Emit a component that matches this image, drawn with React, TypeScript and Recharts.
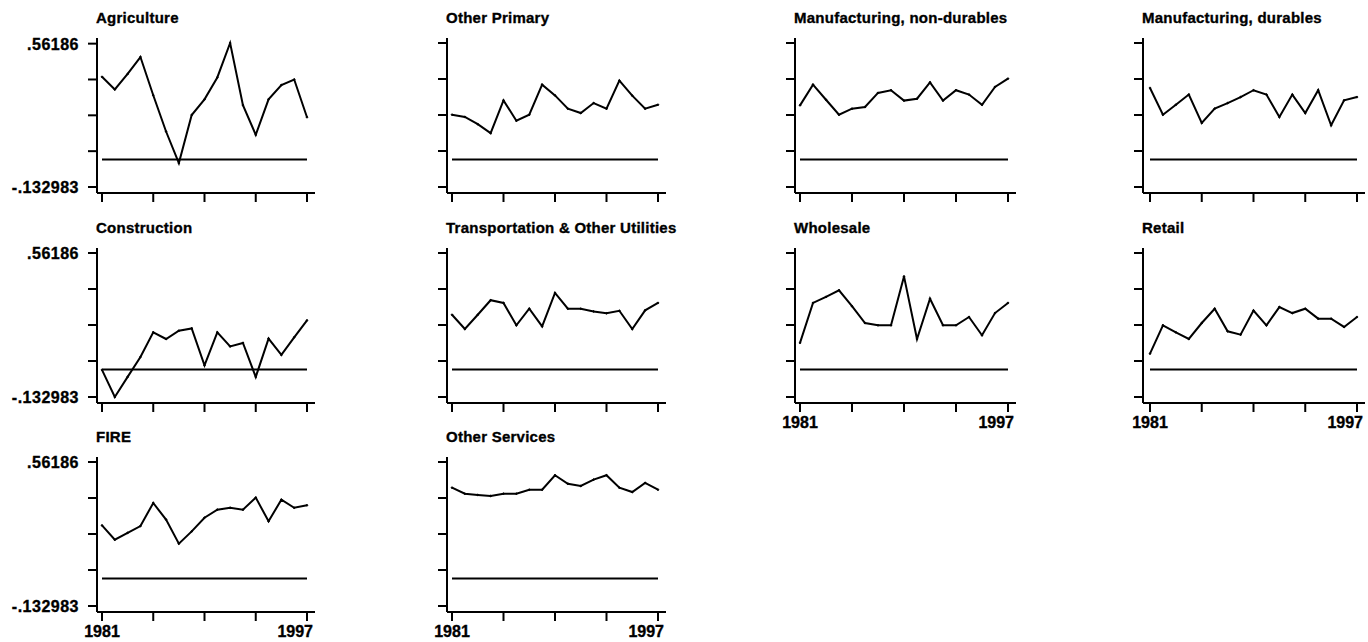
import React from 'react'
import { LineChart, Line, XAxis, YAxis, ReferenceLine } from 'recharts'

// Série 1981-1997, un panneau par secteur (style Stata, noir sur blanc)
const years = [1981, 1982, 1983, 1984, 1985, 1986, 1987, 1988, 1989, 1990, 1991, 1992, 1993, 1994, 1995, 1996, 1997]
const xTicks = [1981, 1985, 1989, 1993, 1997]
const yMin = -0.132983
const yMax = 0.56186
const yTicks = [-0.132983, 0.040728, 0.214439, 0.38815, 0.56186]
const yTickLabels = ['-.132983', '', '', '', '.56186']

const agriculture = [0.401, 0.34, 0.415, 0.497, 0.312, 0.136, -0.017, 0.216, 0.292, 0.398, 0.565, 0.264, 0.12, 0.292, 0.361, 0.388, 0.205]
const otherPrimary = [0.216, 0.205, 0.17, 0.127, 0.285, 0.187, 0.216, 0.361, 0.309, 0.245, 0.224, 0.272, 0.245, 0.38, 0.308, 0.245, 0.264]
const mfgNonDurables = [0.261, 0.361, 0.288, 0.216, 0.245, 0.253, 0.321, 0.334, 0.284, 0.293, 0.372, 0.284, 0.334, 0.313, 0.264, 0.35, 0.39]
const mfgDurables = [0.345, 0.216, 0.264, 0.313, 0.176, 0.245, 0.272, 0.301, 0.334, 0.313, 0.205, 0.313, 0.224, 0.334, 0.165, 0.285, 0.301]
const construction = [-0.002, -0.133, -0.036, 0.06, 0.179, 0.147, 0.187, 0.198, 0.02, 0.179, 0.111, 0.128, -0.036, 0.149, 0.07, 0.155, 0.237]
const transportation = [0.264, 0.195, 0.264, 0.334, 0.321, 0.213, 0.293, 0.208, 0.369, 0.293, 0.293, 0.28, 0.271, 0.283, 0.195, 0.285, 0.321]
const wholesale = [0.128, 0.321, 0.35, 0.382, 0.305, 0.224, 0.213, 0.213, 0.449, 0.147, 0.341, 0.213, 0.213, 0.253, 0.165, 0.272, 0.321]
const retail = [0.076, 0.213, 0.179, 0.147, 0.224, 0.293, 0.184, 0.168, 0.284, 0.213, 0.301, 0.272, 0.293, 0.245, 0.245, 0.205, 0.253]
const fire = [0.256, 0.187, 0.22, 0.253, 0.364, 0.284, 0.168, 0.227, 0.293, 0.332, 0.341, 0.332, 0.39, 0.276, 0.38, 0.341, 0.353]
const otherServices = [0.438, 0.409, 0.403, 0.398, 0.409, 0.409, 0.428, 0.428, 0.498, 0.457, 0.446, 0.477, 0.498, 0.438, 0.417, 0.461, 0.428]

const panels = [
  { title: 'Agriculture', values: agriculture, row: 0, col: 0 },
  { title: 'Other Primary', values: otherPrimary, row: 0, col: 1 },
  { title: 'Manufacturing, non-durables', values: mfgNonDurables, row: 0, col: 2 },
  { title: 'Manufacturing, durables', values: mfgDurables, row: 0, col: 3 },
  { title: 'Construction', values: construction, row: 1, col: 0 },
  { title: 'Transportation & Other Utilities', values: transportation, row: 1, col: 1 },
  { title: 'Wholesale', values: wholesale, row: 1, col: 2, showX: true },
  { title: 'Retail', values: retail, row: 1, col: 3, showX: true },
  { title: 'FIRE', values: fire, row: 2, col: 0, showX: true },
  { title: 'Other Services', values: otherServices, row: 2, col: 1, showX: true },
]

// géométrie
const axisX = [97, 447, 795, 1143]
const dataStart = [102, 452, 800, 1150]
const dataEnd = [307, 658, 1008, 1357]
const tickTop = [43, 253, 462]
const FONT = '"Liberation Sans", Arial, Helvetica, sans-serif'
const YW = 90
const XH = 35
const TOP = 10
const RIGHT = 10
// texte un peu plus gras, comme le rendu Stata
const heavy = { stroke: '#000', strokeWidth: 0.35 }

function YTick(props: any) {
  const { x, y, payload, show } = props
  if (!show) return null
  const idx = yTicks.indexOf(payload.value)
  const label = idx >= 0 ? yTickLabels[idx] : ''
  if (!label) return null
  return (
    <text x={x} y={y + 6} textAnchor="end" fontFamily={FONT} fontWeight={700} fontSize={16} letterSpacing={0.5} fill="#000" {...heavy}>
      {label}
    </text>
  )
}

function XTick(props: any) {
  const { x, y, payload, show } = props
  if (!show) return null
  if (payload.value === 1981) {
    return (
      <text x={x} y={y + 14} textAnchor="middle" fontFamily={FONT} fontWeight={700} fontSize={16} fill="#000" {...heavy}>1981</text>
    )
  }
  if (payload.value === 1997) {
    return (
      <text x={x + 6} y={y + 14} textAnchor="end" fontFamily={FONT} fontWeight={700} fontSize={16} fill="#000" {...heavy}>1997</text>
    )
  }
  return null
}

function Panel({ p }: { p: any }) {
  const ax = axisX[p.col]
  const plotW = dataEnd[p.col] + 8 - ax
  const plotH = 155
  const data = years.map((yr, i) => ({ year: yr, v: p.values[i] }))
  return (
    <div style={{ position: 'absolute', left: ax - YW, top: tickTop[p.row] - 5 - TOP }}>
      <LineChart width={YW + plotW + RIGHT} height={TOP + plotH + XH} data={data}
        margin={{ top: TOP, right: RIGHT, bottom: 0, left: 0 }}>
        <XAxis dataKey="year" type="number" domain={[1981, 1997]} ticks={xTicks} interval={0}
          padding={{ left: dataStart[p.col] - ax, right: 8 }} height={XH}
          axisLine={{ stroke: '#000', strokeWidth: 2 }} tickLine={{ stroke: '#000', strokeWidth: 2 }}
          tickSize={9} tick={<XTick show={!!p.showX} />} />
        <YAxis type="number" domain={[yMin, yMax]} ticks={yTicks} interval={0} width={YW}
          padding={{ top: 5, bottom: 6 }} tickMargin={9}
          axisLine={{ stroke: '#000', strokeWidth: 2 }} tickLine={{ stroke: '#000', strokeWidth: 2 }}
          tickSize={9} tick={<YTick show={p.col === 0} />} />
        <ReferenceLine segment={[{ x: 1981, y: 0 }, { x: 1997, y: 0 }]} stroke="#000" strokeWidth={2} ifOverflow="visible" />
        <Line type="linear" dataKey="v" stroke="#000" strokeWidth={2} dot={{ r: 0.8, fill: '#000', stroke: '#000', strokeWidth: 1 }} isAnimationActive={false} />
      </LineChart>
    </div>
  )
}

export default function App() {
  return (
    <div style={{ position: 'absolute', left: 0, top: 0, width: 1368, height: 642, background: '#fff' }}>
      {panels.map((p) => <Panel key={p.title} p={p} />)}
      <svg width={1368} height={642} style={{ position: 'absolute', left: 0, top: 0, pointerEvents: 'none' }}>
        {panels.map((p) => (
          <text key={p.title} x={axisX[p.col] - 1} y={tickTop[p.row] - 20} fontFamily={FONT} fontWeight={700} fontSize={15} letterSpacing={0.25} fill="#000" {...heavy}>
            {p.title}
          </text>
        ))}
      </svg>
    </div>
  )
}
